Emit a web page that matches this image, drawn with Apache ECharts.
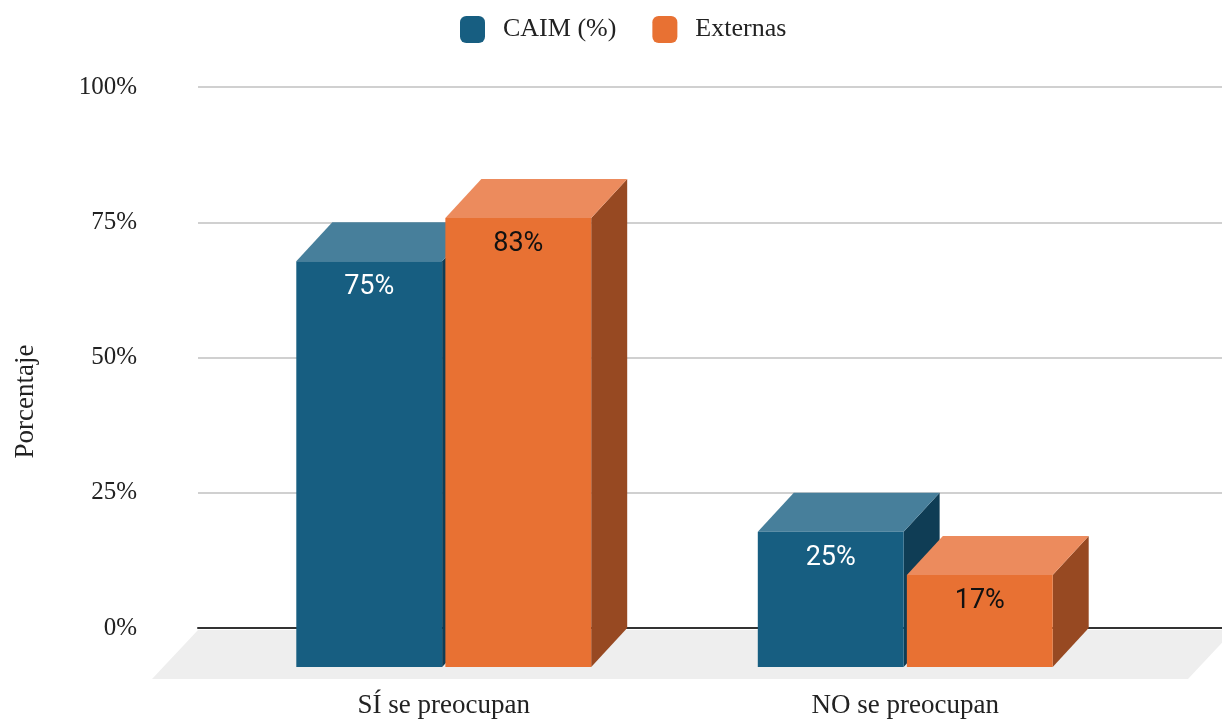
<!DOCTYPE html>
<html>
<head>
<meta charset="utf-8">
<title>Porcentaje que se preocupa</title>
<script src="https://cdn.jsdelivr.net/npm/echarts@6/dist/echarts.min.js"></script>
<style>
  html, body { margin: 0; padding: 0; background: #ffffff; }
  #chart { width: 1222px; height: 721px; }
</style>
</head>
<body>
<div id="chart"></div>
<script>
// Chart data
const categories = ['SÍ se preocupan', 'NO se preocupan'];
const seriesNames = ['CAIM (%)', 'Externas'];
const caimValues = [75, 25];
const externasValues = [83, 17];
const yTicks = [0, 25, 50, 75, 100];

// Shading for the three visible faces of each 3D bar
const palette = [
  { front: '#175E81', top: '#477F9B', side: '#0F3D55', label: '#ffffff' },
  { front: '#E87133', top: '#EC8B5D', side: '#974922', label: '#111111' }
];

const DEPTH_X = 36;   // horizontal depth offset of bars
const DEPTH_Y = 39;   // vertical depth offset of bars
const serif = '"Liberation Serif", "Times New Roman", serif';
const sans = 'Roboto, "Noto Sans", sans-serif';

function makeBarRenderer(seriesIdx) {
  const pal = palette[seriesIdx];
  return function (params, api) {
    const cat = api.value(0);
    const val = api.value(1);
    const topPt = api.coord([cat, val]);
    const basePt = api.coord([cat, 0]);
    const band = api.size([1, 0])[0];
    const w = band * 0.316;
    const gap = band * 0.0035;
    const bx = seriesIdx === 0 ? topPt[0] - gap - w : topPt[0] + gap;
    const yTop = topPt[1];
    const y0 = basePt[1];
    const fx = bx - DEPTH_X;
    const fTop = yTop + DEPTH_Y;
    const fBot = y0 + DEPTH_Y;
    return {
      type: 'group',
      children: [
        { type: 'polygon',
          shape: { points: [[fx + w, fTop], [bx + w, yTop], [bx + w, y0], [fx + w, fBot]] },
          style: { fill: pal.side } },
        { type: 'polygon',
          shape: { points: [[fx, fTop], [fx + w, fTop], [bx + w, yTop], [bx, yTop]] },
          style: { fill: pal.top } },
        { type: 'rect',
          shape: { x: fx, y: fTop, width: w, height: fBot - fTop },
          style: { fill: pal.front } },
        { type: 'text',
          style: { text: val + '%', x: fx + w / 2, y: fTop + 26,
                   align: 'center', verticalAlign: 'middle',
                   fontSize: 27, fontFamily: sans, fill: pal.label } }
      ]
    };
  };
}

// Light floor plane under the bars, derived from the plot area
function renderFloor(params, api) {
  const cs = params.coordSys;
  const y0 = api.coord([0, 0])[1] + 2;
  const dx = 46, dy = 49;
  const xl = cs.x, xr = cs.x + cs.width + 12;
  return {
    type: 'polygon',
    shape: { points: [[xl, y0], [xr, y0], [xr - dx, y0 + dy], [xl - dx, y0 + dy]] },
    style: { fill: '#EEEEEE' }
  };
}

const chart = echarts.init(document.getElementById('chart'), null, { renderer: 'canvas' });

chart.setOption({
  animation: false,
  backgroundColor: '#ffffff',
  legend: {
    data: seriesNames,
    left: 455,
    top: 11,
    itemWidth: 25,
    itemHeight: 27,
    itemGap: 36,
    icon: 'roundRect',
    selectedMode: false,
    textStyle: { fontFamily: serif, fontSize: 26, color: '#222222', padding: [0, 0, 0, 13] }
  },
  grid: [
    { left: 198, right: 0, top: 87, bottom: 93, outerBoundsMode: 'none', containLabel: false },
    { left: 249, right: 50, top: 87, bottom: 93, outerBoundsMode: 'none', containLabel: false }
  ],
  xAxis: [
    { type: 'category', gridIndex: 0, data: categories,
      axisLine: { show: true, lineStyle: { color: '#333333', width: 2 } },
      axisTick: { show: false }, axisLabel: { show: false }, z: 3 },
    { type: 'category', gridIndex: 1, data: categories,
      axisLine: { show: false }, axisTick: { show: false },
      axisLabel: { fontFamily: serif, fontSize: 27, color: '#222222',
                   margin: 63, lineHeight: 30, padding: [0, 72, 0, 0] } }
  ],
  yAxis: [
    { type: 'value', gridIndex: 0, min: yTicks[0], max: yTicks[yTicks.length - 1], interval: 25,
      axisLine: { show: false }, axisTick: { show: false },
      axisLabel: { formatter: '{value}%', fontFamily: serif, fontSize: 25, color: '#222222', margin: 61 },
      splitLine: { lineStyle: { color: '#D0D0D0', width: 2 } },
      name: 'Porcentaje', nameLocation: 'middle', nameGap: 159, nameRotate: 90,
      nameTextStyle: { fontFamily: serif, fontSize: 27, color: '#222222', padding: [0, 88, 0, 0] } },
    { type: 'value', gridIndex: 1, min: 0, max: 100, interval: 25, show: false,
      splitLine: { show: false } }
  ],
  series: [
    { type: 'custom', name: 'floor', xAxisIndex: 0, yAxisIndex: 0, z: 1,
      silent: true, data: [[0, 0]], renderItem: renderFloor },
    { type: 'custom', name: seriesNames[0], xAxisIndex: 1, yAxisIndex: 1, z: 5,
      itemStyle: { color: palette[0].front }, silent: true,
      data: categories.map((c, i) => [i, caimValues[i]]),
      renderItem: makeBarRenderer(0) },
    { type: 'custom', name: seriesNames[1], xAxisIndex: 1, yAxisIndex: 1, z: 6,
      itemStyle: { color: palette[1].front }, silent: true,
      data: categories.map((c, i) => [i, externasValues[i]]),
      renderItem: makeBarRenderer(1) }
  ]
});
</script>
</body>
</html>
